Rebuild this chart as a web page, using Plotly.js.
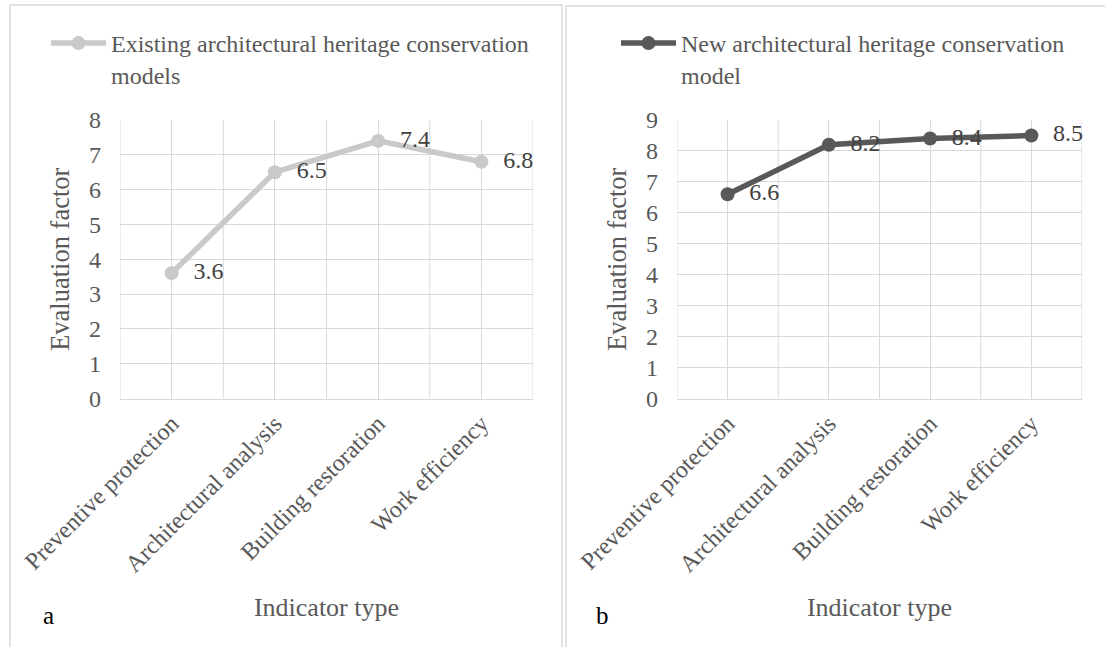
<!DOCTYPE html>
<html>
<head>
<meta charset="utf-8">
<script src="https://cdn.plot.ly/plotly-3.0.1.min.js"></script>
<style>html,body{margin:0;padding:0;background:#fff;}#chart{width:1105px;height:647px;}</style>
</head>
<body>
<div id="chart"></div>
<script>
const categories = ['Preventive protection', 'Architectural analysis', 'Building restoration', 'Work efficiency'];
const existingValues = [3.6, 6.5, 7.4, 6.8];
const newValues = [6.6, 8.2, 8.4, 8.5];
const existingName = 'Existing architectural heritage conservation<br>models';
const newName = 'New architectural heritage conservation<br>model';
const xTitle = 'Indicator type';
const yTitle = 'Evaluation factor';
const panelLabels = ['a', 'b'];

const W = 1105, H = 647;
const px = v => v / W;
const py = v => 1 - v / H;
const FONT = 'Liberation Serif, Times New Roman, serif';
const GRID = '#d9d9d9';
const TXT = '#595959';

const traces = [
  {
    type: 'scatter', mode: 'lines+markers+text', name: existingName,
    x: categories, y: existingValues, xaxis: 'x', yaxis: 'y', legend: 'legend',
    line: {color: '#c9c9c9', width: 5.5}, marker: {color: '#c9c9c9', size: 14},
    texttemplate: '\u00a0\u00a0%{y:.1f}', textposition: 'middle right',
    textfont: {family: FONT, size: 24, color: '#404040'}, cliponaxis: false, hoverinfo: 'skip'
  },
  {
    type: 'scatter', mode: 'lines+markers+text', name: newName,
    x: categories, y: newValues, xaxis: 'x2', yaxis: 'y2', legend: 'legend2',
    line: {color: '#595959', width: 5.5}, marker: {color: '#595959', size: 14},
    texttemplate: '\u00a0\u00a0%{y:.1f}', textposition: 'middle right',
    textfont: {family: FONT, size: 24, color: '#404040'}, cliponaxis: false, hoverinfo: 'skip'
  }
];

function xAxis(d0, d1, anchor) {
  return {
    domain: [px(d0), px(d1)], anchor: anchor, type: 'category', range: [-0.5, categories.length - 0.5],
    tickangle: -45, tickfont: {family: FONT, size: 24, color: TXT}, ticks: '',
    showgrid: true, gridcolor: GRID, gridwidth: 1, showline: true, linecolor: GRID, linewidth: 1.5,
    zeroline: false, fixedrange: true,
    title: {text: xTitle, font: {family: FONT, size: 26, color: TXT}, standoff: 21}
  };
}
function yAxis(maxV, anchor) {
  return {
    domain: [py(398.5), py(120)], anchor: anchor, range: [0, maxV], dtick: 1, tick0: 0,
    tickfont: {family: FONT, size: 24, color: TXT}, ticks: '', ticklabelstandoff: 18,
    showgrid: true, gridcolor: GRID, gridwidth: 1, zeroline: false, showline: false, fixedrange: true,
    title: {text: yTitle, font: {family: FONT, size: 26.5, color: TXT}, standoff: 11}
  };
}

const shapes = [];
// category boundary lines
[['x', 'y'], ['x2', 'y2']].forEach(([xa, ya]) => {
  for (let i = 0; i <= categories.length; i++) {
    shapes.push({type: 'line', layer: 'below', xref: xa, yref: ya + ' domain', x0: i - 0.5, x1: i - 0.5, y0: 0, y1: 1,
      line: {color: GRID, width: 1}});
  }
});
// panel borders
shapes.push({type: 'rect', xref: 'paper', yref: 'paper', x0: px(10), x1: px(562), y0: py(5), y1: py(700), line: {color: GRID, width: 1.5}, fillcolor: 'rgba(0,0,0,0)'});
shapes.push({type: 'rect', xref: 'paper', yref: 'paper', x0: px(566), x1: px(1120), y0: py(6), y1: py(700), line: {color: GRID, width: 1.5}, fillcolor: 'rgba(0,0,0,0)'});

const annotations = [
  {text: panelLabels[0], xref: 'paper', yref: 'paper', x: px(48), y: py(615), xanchor: 'center', yanchor: 'middle', showarrow: false, font: {family: FONT, size: 25, color: '#000'}},
  {text: panelLabels[1], xref: 'paper', yref: 'paper', x: px(602), y: py(615), xanchor: 'center', yanchor: 'middle', showarrow: false, font: {family: FONT, size: 25, color: '#000'}}
];

const legendBase = {
  xanchor: 'left', yanchor: 'top', bgcolor: 'rgba(0,0,0,0)', borderwidth: 0, valign: 'top',
  font: {family: FONT, size: 24, color: TXT}, itemclick: false, itemdoubleclick: false, itemwidth: 55
};

const layout = {
  width: W, height: H, margin: {l: 0, r: 0, t: 0, b: 0},
  paper_bgcolor: '#fff', plot_bgcolor: '#fff',
  font: {family: FONT, color: TXT},
  showlegend: true,
  legend: Object.assign({}, legendBase, {x: px(46), y: py(21)}),
  legend2: Object.assign({}, legendBase, {x: px(616), y: py(21)}),
  xaxis: xAxis(120, 533, 'y'),
  yaxis: yAxis(8, 'x'),
  xaxis2: xAxis(677, 1082, 'y2'),
  yaxis2: yAxis(9, 'x2'),
  shapes: shapes,
  annotations: annotations
};

Plotly.newPlot('chart', traces, layout, {staticPlot: true, displayModeBar: false});
</script>
</body>
</html>
